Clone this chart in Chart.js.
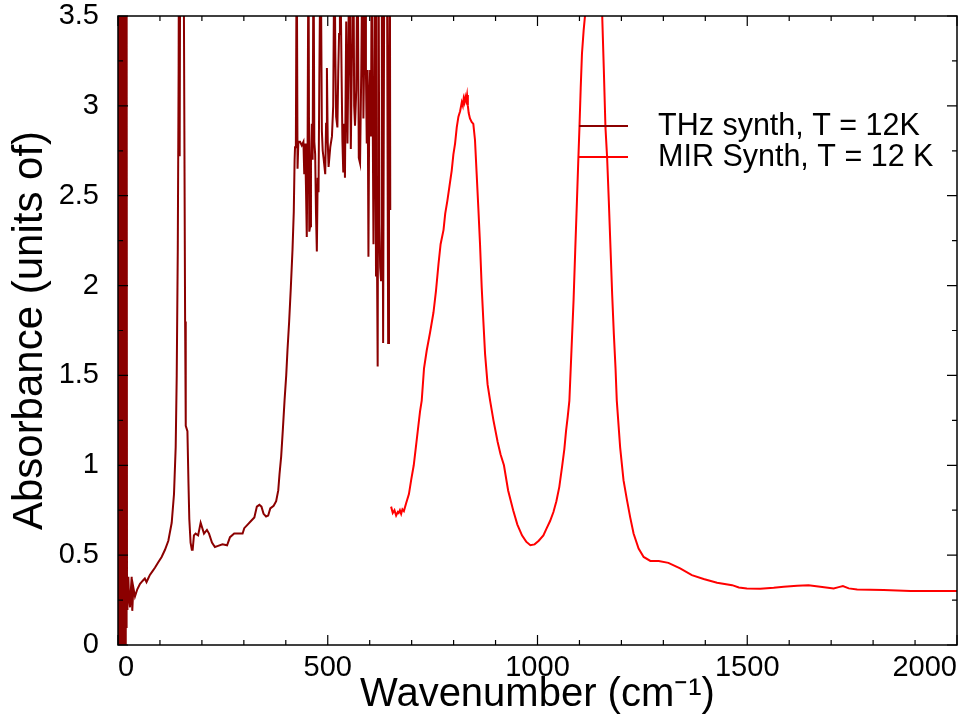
<!DOCTYPE html>
<html>
<head>
<meta charset="utf-8">
<script src="https://cdn.jsdelivr.net/npm/chart.js@4.4.0/dist/chart.umd.min.js"></script>
<style>
    html, body { margin: 0; padding: 0; background: #fff; }
    #spectrum { display: block; }
</style>
</head>
<body>
<canvas id="spectrum" width="970" height="721"></canvas>
<script>
// THz synth spectrum (0 - 650 cm-1), T = 12 K
const thzWavenumber = [
    0, 0.5, 1.5, 2.5, 3.5, 4.5, 5.5, 6.5, 7.5, 8.5, 9.5, 10.5, 12.5, 13.5, 14.5, 15.5, 16.5, 17.5, 18.5, 19.5,
    20.5, 21.5, 22.5, 24.6, 26.5, 28.6, 30.5, 32.6, 34, 36.6, 40.5, 46, 52.5, 56, 60, 64, 68, 72, 76, 82,
    88, 96, 104, 112, 120, 128, 133.5, 137.5, 140, 142.5, 144.5, 145.5, 147, 148.5, 152, 156, 158, 160, 161.5, 165.5,
    168, 170, 173, 176, 178, 181, 185, 191, 197, 205, 212, 217, 224, 231, 237, 249, 260, 267, 277, 289,
    297, 301, 309, 317, 325, 331, 337, 342, 347, 353, 358, 363, 371, 377, 382, 385, 389, 393, 397, 401,
    404, 408, 412, 416, 419, 421, 422, 424, 426, 428, 430, 434, 438, 442, 444, 446, 448, 450, 452, 454,
    456, 458, 460, 462, 464, 466, 468, 470, 472, 474, 476, 478, 480, 483, 486, 488, 490, 494, 496, 498,
    500, 502, 506, 510, 513, 516, 518, 520, 523, 525, 527, 529, 531, 533, 535, 537, 539, 541, 544, 547,
    549, 551, 553, 555, 558, 561, 563, 565, 568, 571, 574, 577, 580, 583, 585, 587, 589, 591, 593, 595,
    597, 599, 601, 603, 605, 607, 609, 611, 613, 615, 617, 619, 621, 623, 625, 627, 629, 632, 635, 638,
    641, 644, 646, 648, 649,
];
const thzAbsorbance = [
    0.72, 4, -0.1, 4, 0.7, 0.72, -0.1, 4, -0.1, 4, 0.2, 4, 4.2, -0.1, 4, -0.1, 4, 0, 4, 0.1,
    4, 0.2, 0.3, 0.38, 0.25, 0.21, 0.3, 0.38, 0.19, 0.32, 0.27, 0.31, 0.34, 0.35, 0.36, 0.37, 0.35, 0.37, 0.39, 0.41,
    0.43, 0.46, 0.49, 0.53, 0.58, 0.68, 0.84, 1.1, 1.5, 2.2, 3.2, 4.2, 2.72, 4.2, 4.5, 4.2, 3.0, 1.8, 1.22, 1.19,
    0.9, 0.7, 0.57, 0.53, 0.53, 0.61, 0.62, 0.61, 0.68, 0.62, 0.64, 0.62, 0.57, 0.545, 0.55, 0.56, 0.555, 0.6, 0.62, 0.62,
    0.62, 0.65, 0.67, 0.69, 0.71, 0.77, 0.78, 0.77, 0.73, 0.715, 0.72, 0.76, 0.775, 0.8, 0.86, 0.95, 1.05, 1.2, 1.36, 1.5,
    1.64, 1.8, 1.99, 2.2, 2.41, 2.7, 2.77, 2.78, 4, 2.65, 2.8, 2.8, 2.78, 2.8, 2.62, 2.79, 2.56, 2.27, 2.8, 4,
    2.3, 2.33, 2.7, 2.9, 2.7, 4, 2.8, 2.73, 2.4, 2.19, 2.6, 2.52, 3.17, 4, 2.86, 2.75, 2.71, 2.62, 2.9, 3.21,
    2.8, 2.66, 2.77, 2.83, 3.0, 4, 3.3, 2.94, 2.88, 3.19, 3.4, 4, 3.6, 3.17, 2.8, 2.63, 2.9, 2.6, 3.47, 2.79,
    3.2, 4, 3.4, 2.76, 3.34, 4, 3.0, 2.89, 3.09, 4, 2.71, 2.68, 3.21, 4, 2.93, 3.3, 4, 3.2, 2.79, 3.2,
    2.16, 3.03, 3.2, 2.83, 4, 3.0, 2.23, 2.9, 4, 2.05, 2.3, 1.55, 4, 2.34, 2.1, 2.03, 4, 1.68, 4, 3.6,
    4, 1.68, 3.0, 4, 2.42,
];

// MIR synth spectrum (650 - 2000 cm-1), T = 12 K
const mirWavenumber = [
    651, 655, 659, 663, 667, 669, 672, 675, 678, 681.5, 687, 693.5, 699, 705, 710, 716, 720, 724, 729.5, 736,
    744, 752, 758, 764, 769, 776, 780, 785, 790, 795.5, 799.5, 803.5, 807.5, 811.5, 815.5, 819.5, 822, 824, 826, 828,
    830, 832, 834, 836, 839, 843, 847, 851, 855, 859, 863, 867, 871, 875, 881, 887, 895, 905, 912, 920,
    930, 942, 952, 963, 973, 983, 993, 1003, 1014, 1022, 1030, 1038, 1045, 1052, 1059, 1064, 1068, 1072, 1076, 1081,
    1086, 1090, 1094, 1097, 1100, 1103, 1106, 1110, 1114, 1120, 1130, 1140, 1148, 1154, 1158, 1162, 1166, 1170, 1174, 1178,
    1182, 1186, 1189, 1197, 1205, 1213, 1221, 1229, 1241, 1253, 1269, 1289, 1312, 1340, 1368, 1396, 1428, 1464, 1480, 1499,
    1531, 1563, 1587, 1619, 1646, 1674, 1706, 1718, 1728, 1742, 1762, 1825, 1889, 1945, 2000,
];
const mirAbsorbance = [
    0.77, 0.735, 0.75, 0.72, 0.74, 0.735, 0.75, 0.73, 0.755, 0.745, 0.79, 0.84, 0.92, 1.0, 1.1, 1.22, 1.3, 1.36, 1.54, 1.64,
    1.74, 1.85, 1.97, 2.12, 2.23, 2.31, 2.4, 2.47, 2.55, 2.64, 2.73, 2.79, 2.88, 2.94, 2.97, 3.02, 3.0, 3.04, 3.02, 3.05,
    3.03, 3.06, 3.0, 2.96, 2.93, 2.91, 2.9, 2.81, 2.62, 2.43, 2.23, 1.99, 1.8, 1.62, 1.45, 1.36, 1.25, 1.13, 1.06, 1.0,
    0.86, 0.75, 0.67, 0.61, 0.575, 0.555, 0.56, 0.58, 0.61, 0.65, 0.69, 0.74, 0.8, 0.88, 1.0, 1.09, 1.19, 1.27, 1.36, 1.64,
    1.92, 2.2, 2.47, 2.68, 2.88, 3.1, 3.29, 3.42, 3.52, 3.8, 4.0, 4.0, 3.8, 3.52, 3.21, 2.88, 2.71, 2.47, 2.21, 1.95,
    1.73, 1.54, 1.36, 1.1, 0.917, 0.81, 0.71, 0.62, 0.537, 0.49, 0.468, 0.467, 0.457, 0.426, 0.389, 0.367, 0.346, 0.333, 0.32, 0.315,
    0.313, 0.318, 0.324, 0.33, 0.333, 0.324, 0.315, 0.322, 0.328, 0.315, 0.309, 0.306, 0.3, 0.3, 0.3,
];

const seriesLabels = ['THz synth, T = 12K', 'MIR Synth, T = 12 K'];
const seriesColors = ['#8b0000', '#ff0000'];

const xTickValues = [0, 500, 1000, 1500, 2000];
const yTickValues = [0, 0.5, 1, 1.5, 2, 2.5, 3, 3.5];
const xMinorStep = 100;
const yMinorStep = 0.25;

const FONT = '"Liberation Sans", Arial, Helvetica, sans-serif';

const toPoints = (xs, ys) => xs.map((x, i) => ({ x: x, y: ys[i] }));

// closed frame with inward tick marks on all four sides
const framePlugin = {
    id: 'frame',
    afterDatasetsDraw(chart) {
        const { ctx, chartArea: a, scales } = chart;
        const x = scales.x;
        const y = scales.y;
        ctx.save();
        ctx.strokeStyle = '#000';
        ctx.lineWidth = 1.5;
        ctx.strokeRect(a.left, a.top, a.right - a.left, a.bottom - a.top);
        ctx.lineWidth = 1.2;
        ctx.beginPath();
        for (let v = x.min; v <= x.max + 1e-6; v += xMinorStep) {
            const px = x.getPixelForValue(v);
            const len = xTickValues.includes(v) ? 10 : 5;
            ctx.moveTo(px, a.bottom);
            ctx.lineTo(px, a.bottom - len);
            ctx.moveTo(px, a.top);
            ctx.lineTo(px, a.top + len);
        }
        for (let i = 0; y.min + i * yMinorStep <= y.max + 1e-6; i++) {
            const v = y.min + i * yMinorStep;
            const py = y.getPixelForValue(v);
            const len = i % 2 === 0 ? 10 : 5;
            ctx.moveTo(a.left, py);
            ctx.lineTo(a.left + len, py);
            ctx.moveTo(a.right, py);
            ctx.lineTo(a.right - len, py);
        }
        ctx.stroke();
        ctx.restore();
    },
};

// legend drawn inside the plot, no box
const insideLegend = {
    id: 'insideLegend',
    afterDraw(chart) {
        const { ctx, chartArea: a } = chart;
        const x0 = a.right - 378;
        const y0 = a.top + 110;
        ctx.save();
        ctx.font = '30.5px ' + FONT;
        ctx.textBaseline = 'middle';
        ctx.fillStyle = '#000';
        seriesLabels.forEach((label, i) => {
            const yy = y0 + i * 31;
            ctx.strokeStyle = seriesColors[i];
            ctx.lineWidth = 2;
            ctx.beginPath();
            ctx.moveTo(x0, yy);
            ctx.lineTo(x0 + 49, yy);
            ctx.stroke();
            ctx.fillText(label, x0 + 79, yy + 1);
        });
        ctx.restore();
    },
};

const ctx = document.getElementById('spectrum').getContext('2d');
new Chart(ctx, {
    type: 'line',
    data: {
        datasets: [
            {
                label: seriesLabels[0],
                data: toPoints(thzWavenumber, thzAbsorbance),
                borderColor: seriesColors[0],
                borderWidth: 2,
                pointRadius: 0,
                tension: 0,
                fill: false,
            },
            {
                label: seriesLabels[1],
                data: toPoints(mirWavenumber, mirAbsorbance),
                borderColor: seriesColors[1],
                borderWidth: 2,
                pointRadius: 0,
                tension: 0,
                fill: false,
            },
        ],
    },
    options: {
        responsive: false,
        animation: false,
        events: [],
        layout: { padding: { left: 0, right: 13, top: 16, bottom: 0 } },
        plugins: {
            legend: { display: false },
            tooltip: { enabled: false },
        },
        scales: {
            x: {
                type: 'linear',
                min: 0,
                max: 2000,
                afterBuildTicks: (scale) => {
                    scale.ticks = xTickValues.map((v) => ({ value: v }));
                },
                afterFit: (scale) => {
                    scale.height = 76;
                    scale.paddingLeft = 0;
                    scale.paddingRight = 0;
                },
                grid: { display: false },
                border: { display: false },
                ticks: {
                    color: '#000',
                    font: { family: FONT, size: 29, lineHeight: 1 },
                    padding: 0,
                    align: 'inner',
                    maxRotation: 0,
                    autoSkip: false,
                    callback: (v) => String(v),
                },
                title: {
                    display: true,
                    text: 'Wavenumber (cm\u207B\u00B9)',
                    color: '#000',
                    font: { family: FONT, size: 40, lineHeight: 1 },
                    padding: { top: 0, bottom: 6 },
                },
            },
            y: {
                type: 'linear',
                min: 0,
                max: 3.5,
                afterBuildTicks: (scale) => {
                    scale.ticks = yTickValues.map((v) => ({ value: v }));
                },
                afterFit: (scale) => {
                    scale.width = 118;
                    scale.paddingTop = 0;
                    scale.paddingBottom = 0;
                },
                grid: { display: false },
                border: { display: false },
                ticks: {
                    color: '#000',
                    font: { family: FONT, size: 29, lineHeight: 1 },
                    padding: 11,
                    autoSkip: false,
                    callback: (v) => String(v),
                },
                title: {
                    display: true,
                    text: 'Absorbance (units of)',
                    color: '#000',
                    font: { family: FONT, size: 42, lineHeight: 1 },
                    padding: { top: 9, bottom: 0 },
                },
            },
        },
    },
    plugins: [framePlugin, insideLegend],
});
</script>
</body>
</html>
